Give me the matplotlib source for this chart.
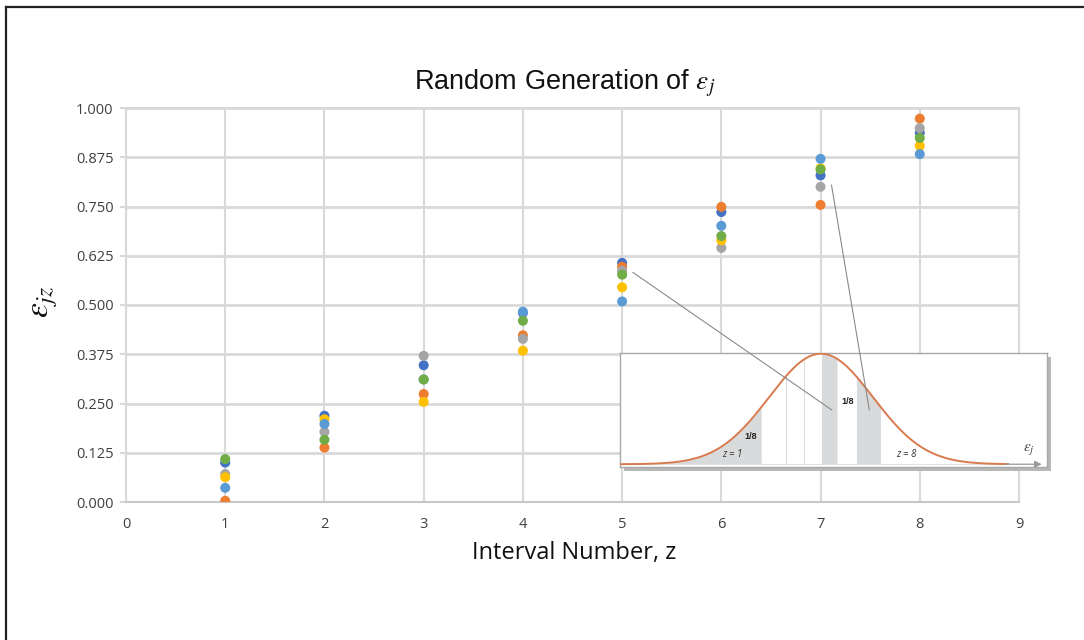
import numpy as np
import matplotlib
matplotlib.use('Agg')
import matplotlib.pyplot as plt
import matplotlib.ticker as mticker
from matplotlib.patches import Rectangle, ConnectionPatch
from matplotlib.lines import Line2D

plt.rcParams['mathtext.fontset'] = 'stix'

# interval number z and the six random draws of eps_j
intervals = [1, 2, 3, 4, 5, 6, 7, 8]
series_dark_blue = [0.100, 0.219, 0.347, 0.480, 0.607, 0.736, 0.829, 0.937]
series_orange = [0.003, 0.138, 0.274, 0.423, 0.597, 0.749, 0.754, 0.973]
series_gray = [0.071, 0.178, 0.371, 0.414, 0.587, 0.645, 0.800, 0.949]
series_yellow = [0.063, 0.210, 0.254, 0.384, 0.545, 0.664, 0.847, 0.904]
series_light_blue = [0.036, 0.198, 0.311, 0.483, 0.509, 0.701, 0.871, 0.883]
series_green = [0.109, 0.158, 0.311, 0.460, 0.577, 0.675, 0.844, 0.924]

y_ticks = [0.0, 0.125, 0.25, 0.375, 0.5, 0.625, 0.75, 0.875, 1.0]
x_ticks = [0, 1, 2, 3, 4, 5, 6, 7, 8, 9]

# octile boundaries of the standard normal (inset sketch)
octile_bounds = [-1.150, -0.674, -0.319, 0.0, 0.319, 0.674, 1.150]

colors = {
    'dark_blue': '#4472C4',
    'orange': '#ED7D31',
    'gray': '#A5A5A5',
    'yellow': '#FFC000',
    'light_blue': '#5B9BD5',
    'green': '#70AD47',
}
grid_c = '#D9D9D9'
tick_c = '#404040'

fig = plt.figure(figsize=(10.84, 6.40), dpi=100)
W, H = 1084, 640

def px_rect(x0, y0, x1, y1):
    # pixel box (top-left origin) -> figure fraction rect
    return [x0 / W, 1 - y1 / H, (x1 - x0) / W, (y1 - y0) / H]

ax = fig.add_axes(px_rect(126, 108, 1019, 502), zorder=0)

all_series = [
    ('dark_blue', series_dark_blue),
    ('orange', series_orange),
    ('gray', series_gray),
    ('yellow', series_yellow),
    ('light_blue', series_light_blue),
    ('green', series_green),
]
for k, vals in all_series:
    ax.scatter(intervals, vals, s=52, color=colors[k], edgecolors='none', zorder=3)

ax.set_xlim(0, 9)
ax.set_ylim(0, 1)
ax.set_xticks(x_ticks)
ax.set_yticks(y_ticks)
ax.yaxis.set_major_formatter(mticker.FormatStrFormatter('%.3f'))
ax.grid(True, axis='y', color=grid_c, lw=2.0, zorder=0)
ax.grid(True, axis='x', color=grid_c, lw=1.5, zorder=0)
ax.set_axisbelow(True)
for s in ax.spines.values():
    s.set_color(grid_c)
    s.set_linewidth(1.5)
ax.spines['bottom'].set_color('#C8C8C8')
ax.tick_params(axis='y', length=4, color=grid_c, width=1.5, pad=5,
               labelsize=10.5, labelcolor=tick_c)
ax.tick_params(axis='x', length=0, pad=11, labelsize=10.5, labelcolor=tick_c)
for lab in ax.get_xticklabels() + ax.get_yticklabels():
    lab.set_family('Open Sans')

fig.text(565 / W, 1 - 83 / H, r'Random Generation of $\varepsilon_j$',
         ha='center', va='center', fontsize=19.5, family='Liberation Sans', color='#111111')
fig.text(44 / W, 1 - 302 / H, r'$\varepsilon_{jz}$', rotation=90,
         ha='center', va='center', fontsize=24, color='#111111')
fig.text(574 / W, 1 - 553 / H, 'Interval Number, z', ha='center', va='center',
         fontsize=17, family='Open Sans', color='#111111')

# inset: normal curve split into eight equal-probability intervals
inset_box = (620, 353, 1047, 467)
sx, sy, sw, sh = px_rect(inset_box[0] + 4, inset_box[1] + 4, inset_box[2] + 4, inset_box[3] + 4)
fig.add_artist(Rectangle((sx, sy), sw, sh, transform=fig.transFigure,
                         facecolor='#B8B8B8', edgecolor='none', zorder=1))
ins = fig.add_axes(px_rect(*inset_box), zorder=2)
ins.set_facecolor('white')
for s in ins.spines.values():
    s.set_color('#A8A8A8')
    s.set_linewidth(1.0)
ins.set_xticks([])
ins.set_yticks([])

xs = np.linspace(-3.87, 3.6, 600)
pdf = np.exp(-xs ** 2 / 2)
shade_c = '#D9DADB'
for lo, hi in [(-3.87, octile_bounds[0]), (octile_bounds[3], octile_bounds[4]),
               (octile_bounds[5], octile_bounds[6])]:
    m = (xs >= lo) & (xs <= hi)
    ins.fill_between(xs[m], 0, pdf[m], color=shade_c, lw=0)
for b in [octile_bounds[1], octile_bounds[2]]:
    ins.plot([b, b], [0, np.exp(-b ** 2 / 2)], color='#DDDDDD', lw=0.8)
ins.plot(xs, pdf, color='#D87A4E', lw=1.4, zorder=3)
ins.annotate('', xy=(4.3, 0), xytext=(3.5, 0),
             arrowprops=dict(arrowstyle='-|>', color='#999999', lw=0.9,
                             mutation_scale=10))
ins.plot([-3.87, 3.6], [0, 0], color='#E2E2E2', lw=0.8, zorder=1)
ins.set_xlim(-3.87, 4.35)
ins.set_ylim(-0.025, 1.006)

ins.text(-1.35, 0.25, '1/8', fontsize=6.5, weight='bold', ha='center', va='center',
         color='#222222', family='Liberation Sans')
ins.text(0.51, 0.57, '1/8', fontsize=6.5, weight='bold', ha='center', va='center',
         color='#222222', family='Liberation Sans')
ins.text(-1.7, 0.085, 'z = 1', fontsize=7, style='italic', ha='center', va='center',
         color='#333333', family='Open Sans')
ins.text(1.65, 0.085, 'z = 8', fontsize=7, style='italic', ha='center', va='center',
         color='#333333', family='Open Sans')
ins.text(4.0, 0.13, r'$\varepsilon_j$', fontsize=11, ha='center', va='center', color='#444444')

# leader lines from the points into the inset
for pt, tgt in [((5.107, 0.583), (0.21, 0.49)), ((7.11, 0.805), (0.93, 0.49))]:
    cp = ConnectionPatch(xyA=pt, coordsA=ax.transData, xyB=tgt, coordsB=ins.transData,
                         color='#8A8A8A', lw=0.8, zorder=4)
    fig.add_artist(cp)

# frame lines along the top and left edge
fig.add_artist(Line2D([6 / W, 6 / W], [0, 1 - 7 / H], transform=fig.transFigure,
                      color='#222222', lw=1.6))
fig.add_artist(Line2D([6 / W, 1], [1 - 7 / H, 1 - 7 / H], transform=fig.transFigure,
                      color='#222222', lw=1.6))

fig.savefig('out.png', dpi=100, facecolor='white')
